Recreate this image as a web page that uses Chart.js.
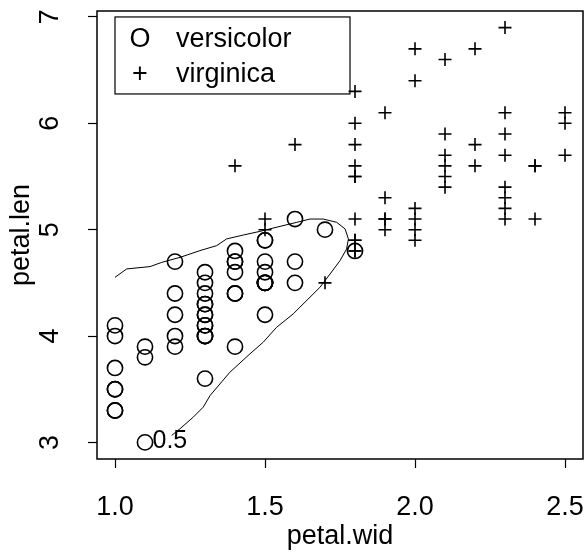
<!DOCTYPE html>
<html lang="en">
<head>
<meta charset="UTF-8" />
<title>Iris petal contour</title>
<script src="https://cdn.jsdelivr.net/npm/chart.js"></script>
<style>
  body { margin: 0; background: #fff; }
  canvas { display: block; }
</style>
</head>
<body>
<canvas id="irisChart" width="585" height="553"></canvas>
<script>
  // iris: versicolor and virginica, petal width vs petal length
  const versicolorWid = [1.4, 1.5, 1.5, 1.3, 1.5, 1.3, 1.6, 1.0, 1.3, 1.4,
                         1.0, 1.5, 1.0, 1.4, 1.3, 1.4, 1.5, 1.0, 1.5, 1.1,
                         1.8, 1.3, 1.5, 1.2, 1.3, 1.4, 1.4, 1.7, 1.5, 1.0,
                         1.1, 1.0, 1.2, 1.6, 1.5, 1.6, 1.5, 1.3, 1.3, 1.3,
                         1.2, 1.4, 1.2, 1.0, 1.3, 1.2, 1.3, 1.3, 1.1, 1.3];
  const versicolorLen = [4.7, 4.5, 4.9, 4.0, 4.6, 4.5, 4.7, 3.3, 4.6, 3.9,
                         3.5, 4.2, 4.0, 4.7, 3.6, 4.4, 4.5, 4.1, 4.5, 3.9,
                         4.8, 4.0, 4.9, 4.7, 4.3, 4.4, 4.8, 5.0, 4.5, 3.5,
                         3.8, 3.7, 3.9, 5.1, 4.5, 4.5, 4.7, 4.4, 4.1, 4.0,
                         4.4, 4.6, 4.0, 3.3, 4.2, 4.2, 4.2, 4.3, 3.0, 4.1];
  const virginicaWid = [2.5, 1.9, 2.1, 1.8, 2.2, 2.1, 1.7, 1.8, 1.8, 2.5,
                        2.0, 1.9, 2.1, 2.0, 2.4, 2.3, 1.8, 2.2, 2.3, 1.5,
                        2.3, 2.0, 2.0, 1.8, 2.1, 1.8, 1.8, 1.8, 2.1, 1.6,
                        1.9, 2.0, 2.2, 1.5, 1.4, 2.3, 2.4, 1.8, 1.8, 2.1,
                        2.4, 2.3, 1.9, 2.3, 2.5, 2.3, 1.9, 2.0, 2.3, 1.8];
  const virginicaLen = [6.0, 5.1, 5.9, 5.6, 5.8, 6.6, 4.5, 6.3, 5.8, 6.1,
                        5.1, 5.3, 5.5, 5.0, 5.1, 5.3, 5.5, 6.7, 6.9, 5.0,
                        5.7, 4.9, 6.7, 4.9, 5.7, 6.0, 4.8, 4.9, 5.6, 5.8,
                        6.1, 6.4, 5.6, 5.1, 5.6, 6.1, 5.6, 5.5, 4.8, 5.4,
                        5.6, 5.1, 5.1, 5.9, 5.7, 5.2, 5.0, 5.2, 5.4, 5.1];

  // the 0.5 contour
  const contourWid = [1.000, 1.039, 1.117, 1.156, 1.217, 1.283, 1.339, 1.372, 1.428, 1.483,
                      1.550, 1.606, 1.650, 1.694, 1.739, 1.767, 1.778, 1.772, 1.750, 1.717,
                      1.683, 1.594, 1.539, 1.494, 1.450, 1.383, 1.317, 1.294, 1.261, 1.217, 1.189];
  const contourLen = [4.552, 4.631, 4.653, 4.693, 4.740, 4.803, 4.850, 4.913, 4.950, 4.984,
                      5.031, 5.069, 5.100, 5.100, 5.069, 5.007, 4.913, 4.819, 4.709, 4.584,
                      4.458, 4.208, 4.083, 3.942, 3.833, 3.660, 3.441, 3.331, 3.238, 3.129, 3.066];
  const contourLabel = { text: '0.5', x: 1.183, y: 3.01 };

  const xTicks = [1.0, 1.5, 2.0, 2.5];
  const yTicks = [3, 4, 5, 6, 7];
  const legendNames = ['versicolor', 'virginica'];
  const legendSymbols = ['O', '+'];
  const legendCorner = [1.0, 7.0];

  const toPoints = (xs, ys) => xs.map((v, i) => ({ x: v, y: ys[i] }));
  const FONT = '"Liberation Sans", Arial, sans-serif';

  // big markers would otherwise push the plot edge inwards
  Chart.registry.getController('scatter').prototype.getMaxOverflow = () => 0;

  // stop Chart.js from shrinking the plot to make room for edge labels
  const noEdgePad = s => {
    s.paddingTop = s.paddingBottom = s.paddingLeft = s.paddingRight = 0;
  };

  // frame, legend box and contour label, R style
  const rExtras = {
    id: 'rExtras',
    afterDatasetsDraw(chart) {
      const { ctx, chartArea: a, scales: { x, y } } = chart;
      ctx.save();
      ctx.strokeStyle = '#000';
      ctx.lineWidth = 1.5;
      ctx.strokeRect(a.left, a.top, a.right - a.left, a.bottom - a.top);

      const lx = x.getPixelForValue(legendCorner[0]);
      const ly = y.getPixelForValue(legendCorner[1]);
      ctx.lineWidth = 1.2;
      ctx.strokeRect(lx, ly, 235, 77);
      ctx.fillStyle = '#000';
      ctx.font = '27px ' + FONT;
      ctx.textBaseline = 'alphabetic';
      legendNames.forEach((name, i) => {
        const by = ly + 30 + i * 35;
        ctx.textAlign = 'center';
        ctx.fillText(legendSymbols[i], lx + 25, by);
        ctx.textAlign = 'left';
        ctx.fillText(name, lx + 61, by);
      });

      ctx.font = '25px ' + FONT;
      ctx.textAlign = 'center';
      ctx.textBaseline = 'middle';
      ctx.fillText(contourLabel.text, x.getPixelForValue(contourLabel.x), y.getPixelForValue(contourLabel.y));
      ctx.restore();
    }
  };

  new Chart(document.getElementById('irisChart'), {
    type: 'scatter',
    data: {
      datasets: [
        {
          label: 'contour',
          data: toPoints(contourWid, contourLen),
          showLine: true,
          pointRadius: 0,
          borderColor: '#000',
          borderWidth: 1,
          tension: 0,
          fill: false
        },
        {
          label: 'versicolor',
          data: toPoints(versicolorWid, versicolorLen),
          pointStyle: 'circle',
          pointRadius: 7.6,
          borderColor: '#000',
          backgroundColor: 'rgba(0,0,0,0)',
          borderWidth: 1.6,
          clip: false
        },
        {
          label: 'virginica',
          data: toPoints(virginicaWid, virginicaLen),
          pointStyle: 'cross',
          pointRadius: 6.5,
          borderColor: '#000',
          borderWidth: 1.6,
          clip: false
        }
      ]
    },
    options: {
      responsive: false,
      animation: false,
      events: [],
      layout: { padding: { top: 11, right: 2, left: 0, bottom: 0 } },
      plugins: { legend: { display: false }, tooltip: { enabled: false } },
      scales: {
        x: {
          type: 'linear',
          min: 0.94,
          max: 2.56,
          afterBuildTicks: s => { s.ticks = xTicks.map(v => ({ value: v })); },
          afterFit: s => { s.height = 94; noEdgePad(s); },
          border: { display: false },
          grid: { drawOnChartArea: false, drawTicks: true, tickLength: 9, tickColor: '#000', tickWidth: 1.2 },
          ticks: {
            color: '#000',
            font: { family: FONT, size: 27 },
            padding: 23,
            maxRotation: 0,
            autoSkip: false,
            callback: v => v.toFixed(1)
          },
          title: {
            display: true,
            text: 'petal.wid',
            color: '#000',
            font: { family: FONT, size: 27 },
            padding: 0
          }
        },
        y: {
          type: 'linear',
          min: 2.844,
          max: 7.056,
          afterBuildTicks: s => { s.ticks = yTicks.map(v => ({ value: v })); },
          afterFit: s => { s.width = 97; noEdgePad(s); },
          border: { display: false },
          grid: { drawOnChartArea: false, drawTicks: true, tickLength: 9, tickColor: '#000', tickWidth: 1.2 },
          ticks: {
            color: '#000',
            font: { family: FONT, size: 27 },
            padding: 30,
            minRotation: 90,
            maxRotation: 90,
            crossAlign: 'center',
            autoSkip: false,
            callback: v => String(v)
          },
          title: {
            display: true,
            text: 'petal.len',
            color: '#000',
            font: { family: FONT, size: 27 },
            padding: { top: 5, bottom: 0 }
          }
        }
      }
    },
    plugins: [rExtras]
  });
</script>
</body>
</html>
